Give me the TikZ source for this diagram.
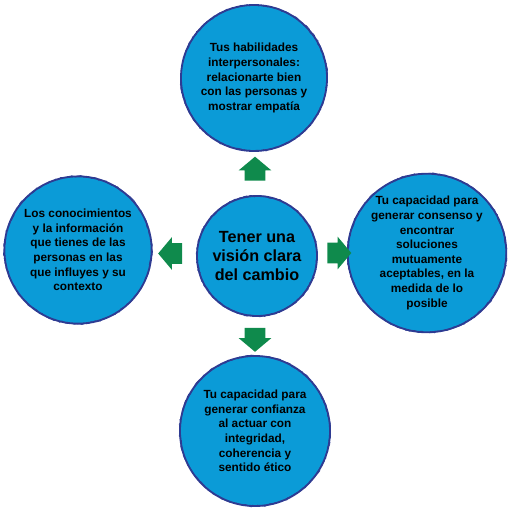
\documentclass[tikz,border=0pt]{standalone}
\usepackage{fontspec}
\setmainfont{Liberation Sans}
\usetikzlibrary{positioning,shapes.arrows,decorations.pathmorphing}
\definecolor{circfill}{HTML}{0B9BD7}
\definecolor{circline}{HTML}{2E3B92}
\definecolor{arrgreen}{HTML}{0F8A4C}

\begin{document}
\begin{tikzpicture}[x=0.025cm, y=-0.025cm,
  font=\bfseries\fontsize{8.4}{10.4}\selectfont,
  idea/.style={circle, fill=circfill, draw=circline, line width=1.3pt, align=center, inner sep=0pt,
    postaction={draw=circline, line width=0.5pt, decorate,
      decoration={random steps, segment length=1.5pt, amplitude=0.7pt}}},
  push/.style={single arrow, fill=arrgreen, minimum height=0.6cm,
    inner xsep=0pt, inner ysep=0.25cm,
    single arrow head extend=0.15cm, single arrow tip angle=100}]
  \useasboundingbox (0,0) rectangle (512,512);

  % circles
  \node[idea, minimum size=3cm, font=\bfseries\fontsize{11.5}{13.6}\selectfont] (vision) at (257,256)
    {Tener una\\visión clara\\del cambio};
  \node[idea, minimum size=3.65cm] (habil) at (254,78)
    {Tus habilidades\\interpersonales:\\relacionarte bien\\con las personas y\\mostrar empatía};
  \node[idea, minimum size=3.68cm] (conoc) at (78,250)
    {Los conocimientos\\y la información\\que tienes de las\\personas en las\\que influyes y su\\contexto};
  \node[idea, minimum size=3.62cm] (consen) at (427,253)
    {Tu capacidad para\\generar consenso y\\encontrar\\soluciones\\mutuamente\\aceptables, en la\\medida de lo\\posible};
  \node[idea, minimum size=3.75cm] (confia) at (255,431)
    {Tu capacidad para\\generar confianza\\al actuar con\\integridad,\\coherencia y\\sentido ético};

  % arrows
  \node[push, rotate=90] (up) at (255,173) {};
  \node[push, rotate=180] (left) at (174.5,253.5) {};
  \node[push] (right) at (335,253) {};
  \node[push, rotate=270] (down) at (255,335.5) {};
\end{tikzpicture}
\end{document}
